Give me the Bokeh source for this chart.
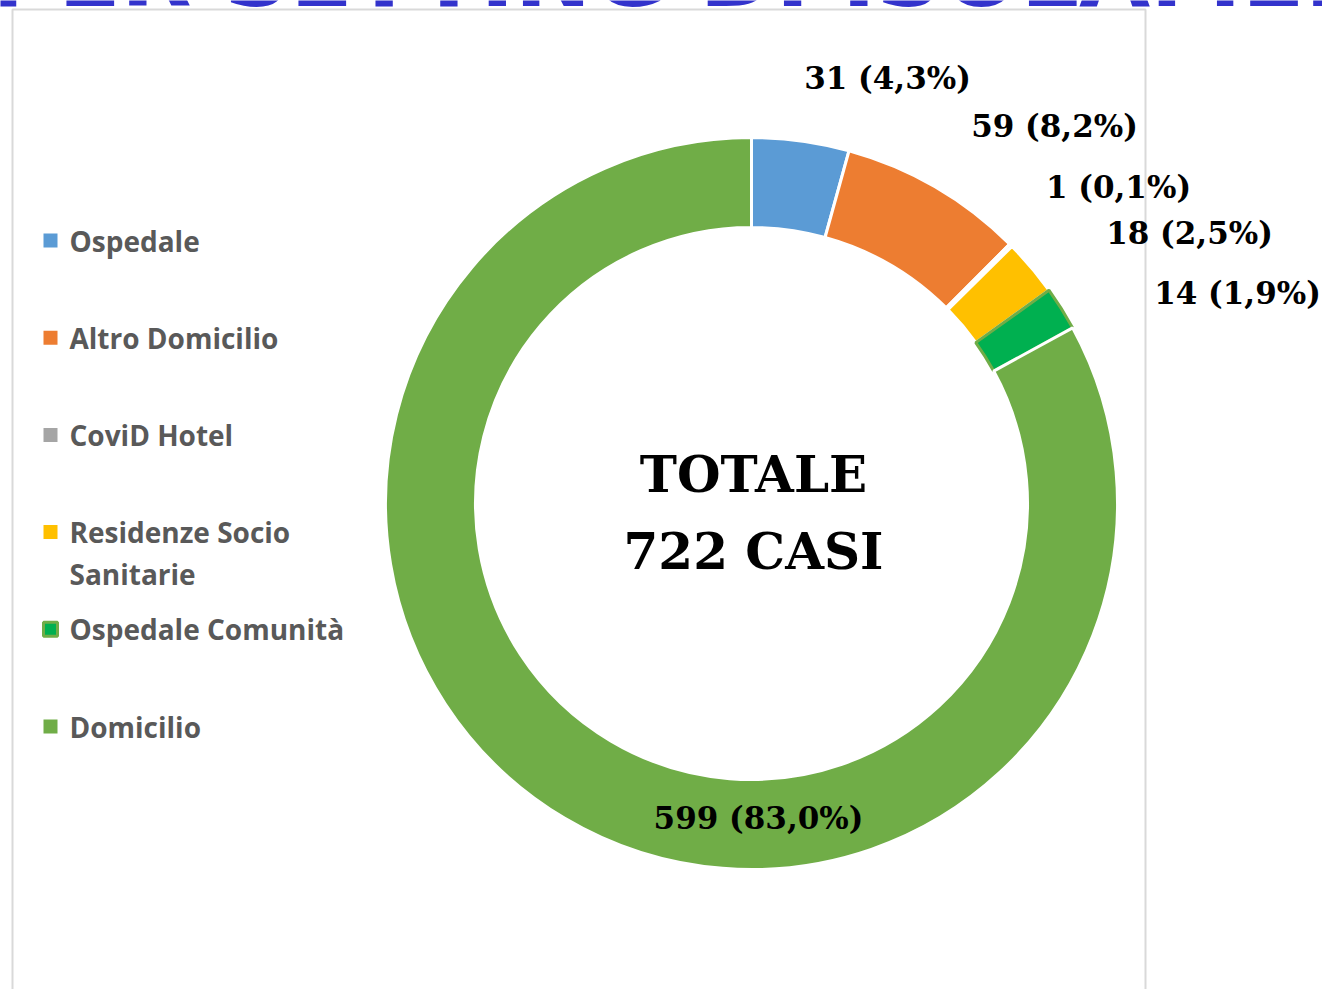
import math
from bokeh.plotting import figure
from bokeh.models import Range1d, ColumnDataSource
from bokeh.core.properties import value
from bokeh.embed import file_html
from bokeh.resources import INLINE

# ---------------- data ----------------
categories = ["Ospedale", "Altro Domicilio", "CoviD Hotel",
              "Residenze Socio\nSanitarie", "Ospedale Comunità", "Domicilio"]
counts = [31, 59, 1, 18, 14, 599]
colors = ["#5B9BD5", "#ED7D31", "#A5A5A5", "#FFC000", "#00B050", "#70AD47"]
edge_colors = ["white", "white", "white", "white", "#70AD47", "white"]
center_lines = ["TOTALE", "{} CASI"]
title_text = "PER SETTING DI ISOLAMENTO"

# ---------------- layout ----------------
W, H = 1322, 989
CX, CY = 751, 503          # screen px
R_IN, R_OUT = 276, 366
LABEL_POS = [(887, 77), (1054, 125), (1118, 186), (1189, 232), (1237, 292), (758, 817)]
LEG_X_MARK, LEG_X_TEXT, LEG_Y0, LEG_STEP, LEG_LINE = 50, 69, 240, 97.2, 42


def Y(sy):
    return H - sy


total = sum(counts)
p = figure(width=W, height=H, output_backend="svg", toolbar_location=None,
           x_range=Range1d(0, W), y_range=Range1d(0, H), min_border=0,
           outline_line_color=None, background_fill_color="white",
           border_fill_color="white")
p.axis.visible = False
p.xgrid.visible = False
p.ygrid.visible = False

# cut-off title at the very top (only the bottom of the letters is visible)
p.text(x=[-10], y=[Y(-26)], text=[title_text], text_color="#3333CC",
       text_font=value("DejaVu Sans"), text_font_style="bold",
       text_font_size="92px", text_align="left", text_baseline="alphabetic")

# frame box
p.quad(left=[12], right=[1145], top=[Y(9)], bottom=[Y(1100)],
       fill_color=None, line_color="#D9D9D9", line_width=2)

# donut
starts, ends = [], []
cum = 0
for c in counts:
    starts.append(math.pi / 2 - 2 * math.pi * cum / total)
    cum += c
    ends.append(math.pi / 2 - 2 * math.pi * cum / total)

src = ColumnDataSource(dict(start=starts, end=ends, color=colors, edge=edge_colors))
p.annular_wedge(x=CX, y=Y(CY), inner_radius=R_IN, outer_radius=R_OUT,
                start_angle="start", end_angle="end", direction="clock",
                fill_color="color", line_color="edge", line_width=3, source=src)

# value labels
labels = []
for c in counts:
    pct = ("%.1f" % (100.0 * c / total)).replace(".", ",")
    labels.append("%d (%s%%)" % (c, pct))
lsrc = ColumnDataSource(dict(x=[q[0] for q in LABEL_POS], y=[Y(q[1]) for q in LABEL_POS], t=labels))
p.text(x="x", y="y", text="t", source=lsrc, text_align="center", text_baseline="middle",
       text_font=value("DejaVu Serif"), text_font_style="bold", text_font_size="31px",
       text_color="black")

# centre text
p.text(x=[753, 753], y=[Y(474), Y(551)],
       text=[center_lines[0], center_lines[1].format(total)],
       text_align="center", text_baseline="middle",
       text_font=value("DejaVu Serif"), text_font_style="bold", text_font_size="50px",
       text_color="black")

# legend
mx, my, mc, ml, mw = [], [], [], [], []
tx, ty, tt = [], [], []
for i, (cat, col, edge) in enumerate(zip(categories, colors, edge_colors)):
    yy = LEG_Y0 + i * LEG_STEP
    mx.append(LEG_X_MARK)
    my.append(Y(yy))
    mc.append(col)
    ml.append(edge if edge != "white" else col)
    mw.append(3 if edge != "white" else 0)
    for j, line in enumerate(cat.split("\n")):
        tx.append(LEG_X_TEXT)
        ty.append(Y(yy + j * LEG_LINE))
        tt.append(line)
msrc = ColumnDataSource(dict(x=mx, y=my, c=mc, l=ml, w=mw))
p.scatter(x="x", y="y", marker="square", size=14, fill_color="c", line_color="l",
          line_width="w", source=msrc)
p.text(x=tx, y=ty, text=tt, text_align="left", text_baseline="middle",
       text_font=value("Open Sans"), text_font_style="bold", text_font_size="28px",
       text_color="#595959")

open("out.html", "w").write(file_html(p, INLINE))
